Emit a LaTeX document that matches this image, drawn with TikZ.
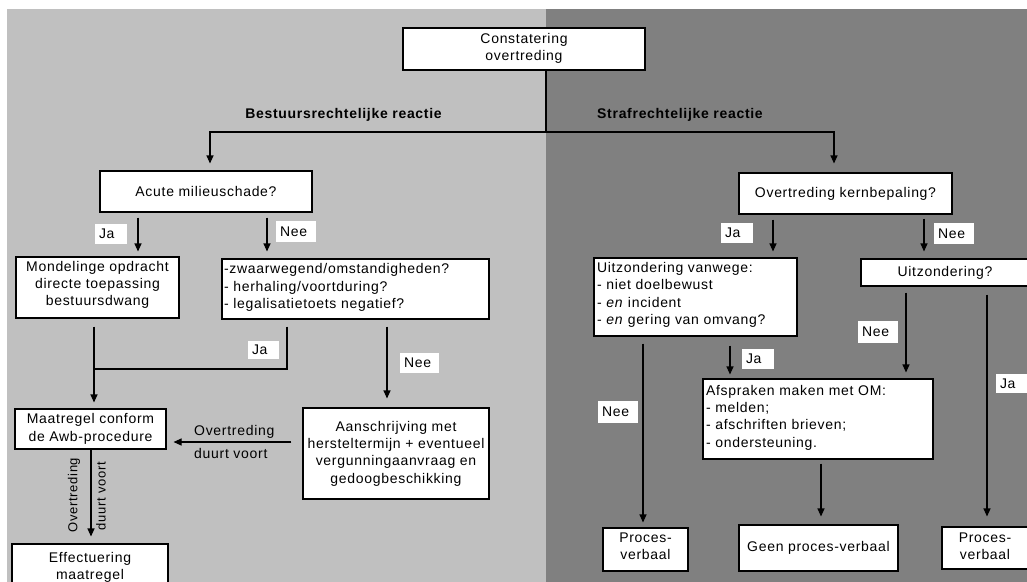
\documentclass[tikz,border=0pt]{standalone}
\usepackage{fontspec}
\setmainfont{Liberation Sans}[LetterSpace=5.0]
\usetikzlibrary{arrows.meta}
\definecolor{lightbg}{HTML}{C0C0C0}
\definecolor{darkbg}{HTML}{808080}
\begin{document}
\begin{tikzpicture}[x=1pt,y=-1pt,
  every node/.style={font=\fontsize{14}{17.3}\selectfont},
  box/.style={draw=black, line width=1.1pt, fill=white, inner sep=2pt, align=center},
  lbox/.style={box, align=left},
  tag/.style={fill=white, inner xsep=4pt, inner ysep=0pt, align=left},
  bold/.style={font=\fontsize{14}{17.3}\selectfont\bfseries},
  rot/.style={rotate=90, inner sep=0pt, font=\fontsize{13}{15}\selectfont},
  arr/.style={line width=1.1pt, -{Triangle[length=8pt,width=7pt]}},
  ln/.style={line width=1.1pt}]
\useasboundingbox (0,0) rectangle (1027,581);
\clip (0,0) rectangle (1027,581);
\fill[lightbg] (7,9) rectangle (546,600);
\fill[darkbg] (546,9) rectangle (1040,600);

% boxes
\node[box, minimum width=242pt, minimum height=42pt, text depth=4pt] (top) at (524,49) {Constatering\\overtreding};
\node[bold] (bestl) at (343.5,115) {Bestuursrechtelijke reactie};
\node[bold] (strafl) at (680,115) {Strafrechtelijke reactie};
\node[box, minimum width=212pt, minimum height=41pt] (acute) at (206,191.5) {Acute milieuschade?};
\node[box, minimum width=213pt, minimum height=41pt] (kern) at (845.5,193.5) {Overtreding kernbepaling?};
\node[box, minimum width=163pt, minimum height=61pt, text depth=8pt] (mond) at (97.5,287.5) {Mondelinge opdracht\\directe toepassing\\bestuursdwang};
\node[lbox, text width=263pt, minimum height=60pt, text depth=40.5pt] (zwaar) at (355.5,289) {-zwaarwegend/omstandigheden?\\- herhaling/voortduring?\\- legalisatietoets negatief?};
\node[box, minimum width=151pt, minimum height=40pt] (maat) at (90.5,429) {Maatregel conform\\de Awb-procedure};
\node[box, minimum width=186pt, minimum height=91pt] (aansch) at (396,453.5) {Aanschrijving met\\hersteltermijn + eventueel\\vergunningaanvraag en\\gedoogbeschikking};
\node[box, minimum width=156pt, minimum height=48pt, text depth=4pt] (eff) at (90,568) {Effectuering\\maatregel};
\node[lbox, text width=197pt, minimum height=78pt, text depth=58.9pt, inner xsep=3pt] (uitzv) at (695.5,297) {Uitzondering vanwege:\\- niet doelbewust\\- \textit{en} incident\\- \textit{en} gering van omvang?};
\node[box, minimum width=168pt, minimum height=27pt] (uitzq) at (945,272.5) {Uitzondering?};
\node[lbox, text width=224pt, minimum height=80pt, text depth=57.9pt, inner xsep=3pt] (afspr) at (818,419) {Afspraken maken met OM:\\- melden;\\- afschriften brieven;\\- ondersteuning.};
\node[box, minimum width=85pt, minimum height=43pt, text depth=7pt] (pvl) at (645.5,549.5) {Proces-\\verbaal};
\node[box, minimum width=159pt, minimum height=46pt] (geen) at (818.5,548) {Geen proces-verbaal};
\node[box, minimum width=86pt, minimum height=42pt, text depth=3pt] (pvr) at (985,548) {Proces-\\verbaal};

% tags
\node[tag, text width=24pt, minimum height=20pt] (ja1) at (111,234) {Ja};
\node[tag, text width=32pt, minimum height=21pt] (nee1) at (296,231.5) {Nee};
\node[tag, text width=23pt, minimum height=18pt] (ja2) at (263.5,350) {Ja};
\node[tag, text width=31pt, minimum height=20pt] (nee2) at (419.5,363) {Nee};
\node[tag, text width=24pt, minimum height=20pt] (ja3) at (737,233) {Ja};
\node[tag, text width=32pt, minimum height=21pt] (nee3) at (954,233.5) {Nee};
\node[tag, text width=24pt, minimum height=20pt] (ja4) at (758,359) {Ja};
\node[tag, text width=32pt, minimum height=22pt] (nee4) at (878,332) {Nee};
\node[tag, text width=32pt, minimum height=22pt] (nee5) at (618,412) {Nee};
\node[tag, text width=24pt, minimum height=19pt] (ja5) at (1012,383.5) {Ja};

% free labels
\node[anchor=west, inner sep=0pt] (ovh) at (194,432) {Overtreding};
\node[anchor=west, inner sep=0pt] (dvh) at (194,453) {duurt voort};
\node[rot] (ovv) at (74,495) {Overtreding};
\node[rot] (dvv) at (101,496) {duurt voort};

% connectors
\coordinate (split) at (546,132);
\coordinate (merge) at (94,369);
\draw[line width=2pt] (top.south -| split) -- (split);
\draw[arr, shorten >=7pt] (split) -| ([xshift=4pt]acute.north);
\draw[arr, shorten >=9pt] (split) -| ([xshift=-11.5pt]kern.north);
\draw[arr, shorten <=5pt, shorten >=5pt] ([xshift=-68pt]acute.south) -- ([xshift=40.5pt]mond.north);
\draw[arr, shorten <=5pt, shorten >=7pt] ([xshift=61pt]acute.south) -- ([xshift=-88.5pt]zwaar.north);
\draw[arr, shorten <=8pt, shorten >=6pt] ([xshift=-3.5pt]mond.south) -- ([xshift=3.5pt]maat.north);
\draw[ln, shorten <=7pt] ([xshift=-68.5pt]zwaar.south) |- (merge);
\draw[arr, shorten <=7pt, shorten >=9pt] ([xshift=31.5pt]zwaar.south) -- ([xshift=-9pt]aansch.north);
\draw[arr, shorten <=11pt, shorten >=7pt] ([yshift=11.5pt]aansch.west) -- ([yshift=-13pt]maat.east);
\draw[arr, shorten >=7pt] ([xshift=0.5pt]maat.south) -- ([xshift=1pt]eff.north);
\draw[arr, shorten <=5pt, shorten >=6pt] ([xshift=-72.5pt]kern.south) -- ([xshift=77.5pt]uitzv.north);
\draw[arr, shorten <=4pt, shorten >=7pt] ([xshift=78.5pt]kern.south) -- ([xshift=-21pt]uitzq.north);
\draw[arr, shorten <=7pt, shorten >=5pt] ([xshift=-52.5pt]uitzv.south) -- ([xshift=-2.5pt]pvl.north);
\draw[arr, shorten <=9pt, shorten >=4pt] ([xshift=34.5pt]uitzv.south) -- ([xshift=-88pt]afspr.north);
\draw[arr, shorten <=6pt, shorten >=6pt] ([xshift=-39pt]uitzq.south) -- ([xshift=88pt]afspr.north);
\draw[arr, shorten <=8pt, shorten >=10pt] ([xshift=42pt]uitzq.south) -- ([xshift=2pt]pvr.north);
\draw[arr, shorten <=4pt, shorten >=8pt] ([xshift=3pt]afspr.south) -- ([xshift=2.5pt]geen.north);
\end{tikzpicture}
\end{document}
